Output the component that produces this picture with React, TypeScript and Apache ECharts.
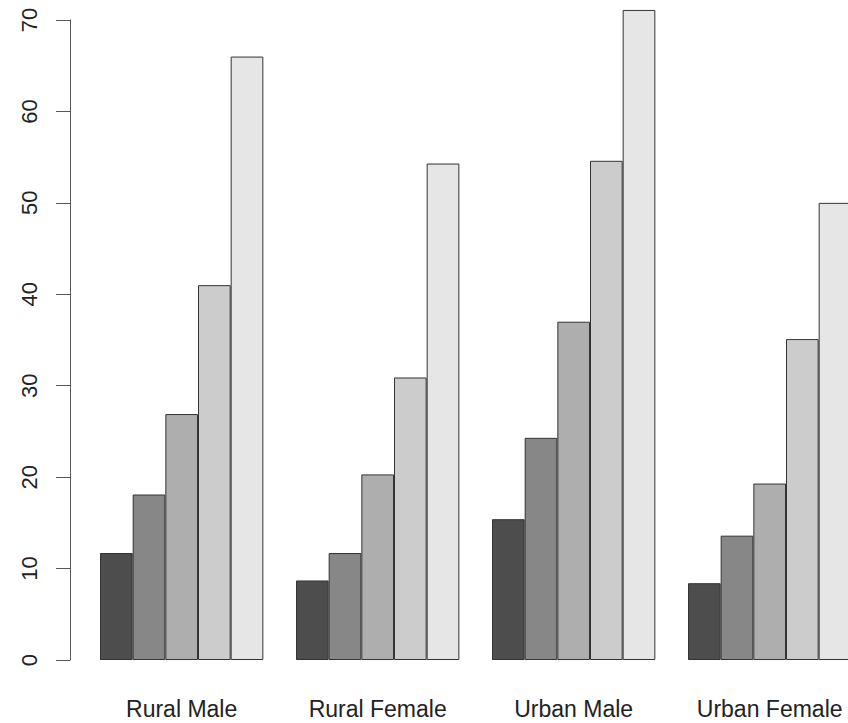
import React, { useEffect, useRef } from "react";
import * as echarts from "echarts";

const categories = ["Rural Male", "Rural Female", "Urban Male", "Urban Female"];
const ageGroups = ["50-54", "55-59", "60-64", "65-69", "70-74"];
const age50_54 = [11.7, 8.7, 15.4, 8.4];
const age55_59 = [18.1, 11.7, 24.3, 13.6];
const age60_64 = [26.9, 20.3, 37.0, 19.3];
const age65_69 = [41.0, 30.9, 54.6, 35.1];
const age70_74 = [66.0, 54.3, 71.1, 50.0];
const yTicks = [0, 10, 20, 30, 40, 50, 60, 70];

const seriesValues = [age50_54, age55_59, age60_64, age65_69, age70_74];
const barColors = ["#4D4D4D", "#878787", "#AEAEAE", "#CCCCCC", "#E6E6E6"];

export default function App() {
  const ref = useRef<HTMLDivElement>(null);
  useEffect(() => {
    if (!ref.current) return;
    const chart = echarts.init(ref.current, null, { renderer: "svg" });
    const font = "'Liberation Sans', Arial, Helvetica, sans-serif";
    chart.setOption({
      animation: false,
      backgroundColor: "#ffffff",
      grid: { left: 83.67, right: 32.33, top: 20, bottom: 63, containLabel: false },
      xAxis: {
        type: "category",
        data: categories,
        axisLine: { show: false },
        axisTick: { show: false },
        axisLabel: {
          show: true,
          margin: 37,
          fontSize: 23,
          color: "#222",
          fontFamily: font,
          interval: 0,
        },
        splitLine: { show: false },
      },
      yAxis: {
        type: "value",
        min: yTicks[0],
        max: yTicks[yTicks.length - 1],
        interval: 10,
        offset: 13.67,
        axisLine: { show: true, lineStyle: { color: "#555", width: 1 } },
        axisTick: { show: true, length: 14, lineStyle: { color: "#555", width: 1 } },
        axisLabel: {
          show: true,
          rotate: 90,
          margin: 30,
          fontSize: 22,
          color: "#222",
          fontFamily: font,
        },
        splitLine: { show: false },
      },
      series: seriesValues.map((vals, i) => ({
        name: ageGroups[i],
        type: "bar",
        data: vals,
        clip: false,
        barGap: "0%",
        barCategoryGap: "16.667%",
        itemStyle: { color: barColors[i], borderColor: "#333", borderWidth: 1 },
      })),
    });
    return () => chart.dispose();
  }, []);
  return (
    <div
      style={{
        position: "fixed",
        left: 0,
        top: 0,
        width: 848,
        height: 723,
        overflow: "hidden",
        background: "#fff",
      }}
    >
      <div ref={ref} style={{ width: 900, height: 723 }} />
    </div>
  );
}
